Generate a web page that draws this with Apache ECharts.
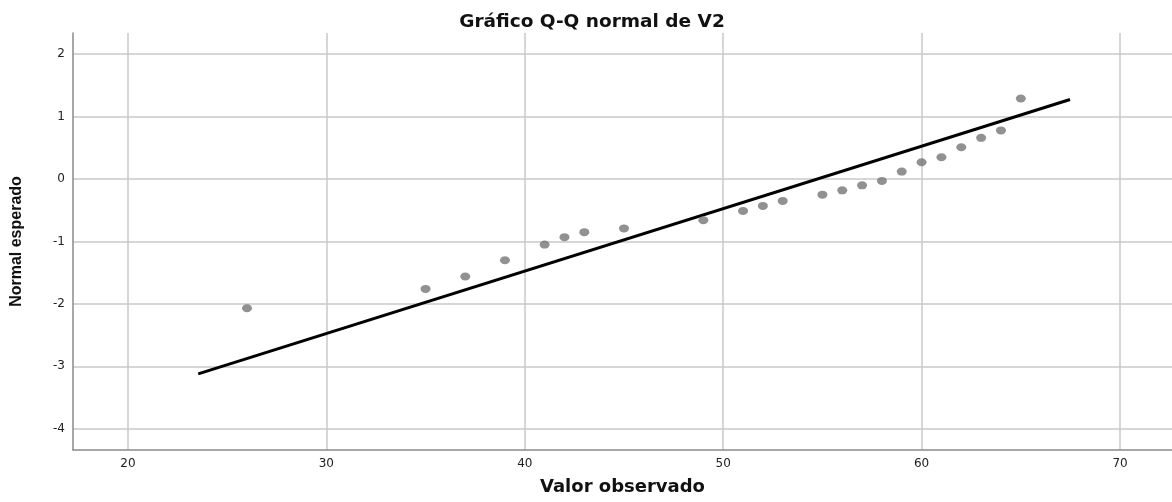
<!DOCTYPE html>
<html>
<head>
<meta charset="utf-8">
<script src="https://cdn.jsdelivr.net/npm/echarts@6/dist/echarts.min.js"></script>
<style>
  html, body { margin: 0; padding: 0; background: #fff; }
  #chart { width: 1172px; height: 502px; }
</style>
</head>
<body>
<div id="chart"></div>
<script>
const observed = [26, 35, 37, 39, 41, 42, 43, 45, 49, 51, 52, 53, 55, 56, 57, 58, 59, 60, 61, 62, 63, 64, 65];
const expected = [-2.07, -1.76, -1.56, -1.30, -1.05, -0.93, -0.85, -0.79, -0.66, -0.51, -0.43, -0.35,
                  -0.25, -0.18, -0.10, -0.03, 0.12, 0.27, 0.35, 0.51, 0.66, 0.78, 1.29];

// reference line end points
const lineX = [23.54, 67.48];
const lineY = [-3.12, 1.275];

const xTicks = [20, 30, 40, 50, 60, 70];
const yTicks = [-4, -3, -2, -1, 0, 1, 2];

const chart = echarts.init(document.getElementById('chart'));

const gridLine = { show: true, lineStyle: { color: '#c8c8c8', width: 1.5 } };
const axisLine = { show: true, onZero: false, lineStyle: { color: '#8a8a8a', width: 1.5 } };
const tickFont = { fontFamily: 'DejaVu Sans', fontSize: 12, color: '#222' };

chart.setOption({
  animation: false,
  title: {
    text: 'Gráfico Q-Q normal de V2',
    left: 587,
    top: 8,
    textAlign: 'center',
    textStyle: { fontFamily: 'DejaVu Sans', fontSize: 18.5, fontWeight: 'bold', color: '#111' }
  },
  grid: { left: 73, right: 0, top: 33, bottom: 52 },
  xAxis: {
    type: 'value',
    min: 17.23,
    max: 72.62,
    name: 'Valor observado',
    nameLocation: 'middle',
    nameGap: 28,
    nameTextStyle: { fontFamily: 'DejaVu Sans', fontSize: 18, fontWeight: 'bold', color: '#111' },
    axisLine: axisLine,
    axisTick: { show: false, customValues: xTicks },
    axisLabel: Object.assign({ margin: 8, customValues: xTicks }, tickFont),
    splitLine: gridLine
  },
  yAxis: {
    type: 'value',
    min: -4.34,
    max: 2.34,
    name: 'Normal esperado',
    nameLocation: 'middle',
    nameGap: 48,
    nameRotate: 90,
    nameTextStyle: { fontFamily: 'Liberation Sans', fontSize: 16, fontWeight: 'bold', color: '#111' },
    axisLine: axisLine,
    axisTick: { show: false, customValues: yTicks },
    axisLabel: Object.assign({ margin: 8, customValues: yTicks }, tickFont),
    splitLine: gridLine
  },
  series: [
    {
      type: 'line',
      data: lineX.map((x, i) => [x, lineY[i]]),
      symbol: 'none',
      lineStyle: { color: '#000', width: 3 },
      z: 2
    },
    {
      type: 'scatter',
      data: observed.map((x, i) => [x, expected[i]]),
      symbol: 'circle',
      symbolSize: [10, 8],
      itemStyle: { color: '#757575' },
      z: 3
    }
  ]
});
</script>
</body>
</html>
